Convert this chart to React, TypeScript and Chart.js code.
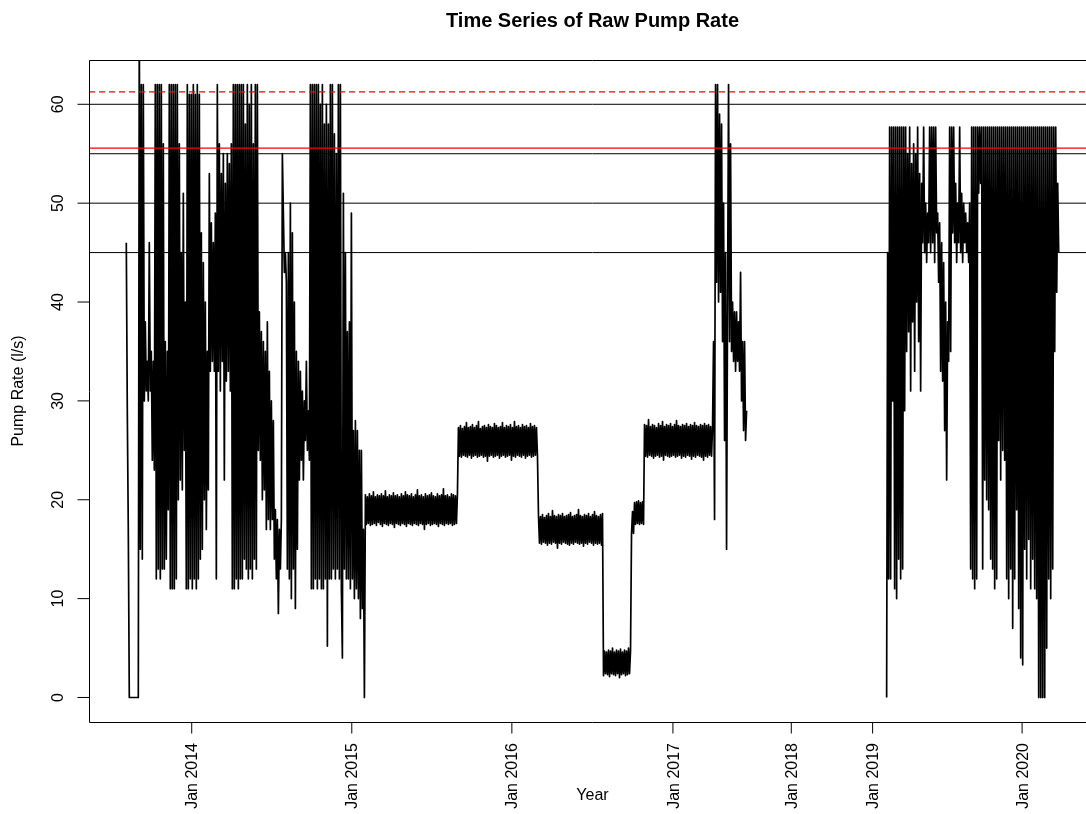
import React, { useEffect, useRef } from "react";
import { Chart, registerables } from "chart.js";

Chart.register(...registerables);

// ---- Data: observation index on x, pump rate (l/s) on y ----
// first observation index of each recorded period (the record has a gap in 2017-2019)
const periodStart = [0, 760];

// mid 2013 - Jan 2015: highly variable operation
const rate2013_2014 = [
  46, 29, 17, 0, 0, 0, 0, 0, 0, 0,
  0, 0, 0, 70, 15, 62, 14, 62, 30, 38,
  31, 34, 30, 46, 31, 35, 24, 34, 23, 62,
  12, 62, 13, 62, 12, 62, 13, 56, 13, 36,
  14, 35, 19, 62, 11, 62, 11, 62, 11, 62,
  12, 62, 20, 56, 22, 45, 21, 51, 25, 40,
  11, 62, 11, 61, 12, 61, 11, 62, 12, 61,
  11, 62, 12, 61, 14, 47, 15, 44, 20, 40,
  17, 35, 21, 53, 33, 48, 34, 46, 33, 49,
  12, 62, 33, 56, 31, 53, 34, 55, 22, 52,
  32, 55, 33, 54, 31, 56, 11, 62, 11, 62,
  12, 62, 11, 62, 12, 62, 12, 62, 14, 58,
  13, 62, 12, 60, 13, 62, 12, 56, 14, 62,
  13, 62, 25, 39, 24, 37, 20, 36, 21, 35,
  17, 38, 18, 33, 17, 30, 18, 28, 14, 19,
  12, 18, 8.5, 17, 13, 18, 55, 49, 43, 45,
  42, 13, 45, 12, 50, 10, 47, 13, 40, 9,
  35, 15, 34, 22, 33, 24, 31, 22, 30, 26,
  34, 25, 29, 24, 62, 11, 62, 11, 62, 12,
  62, 11, 62, 12, 60, 11, 62, 11, 58, 12,
  60, 5.2, 58, 12, 62, 12, 62, 13, 57, 12,
  55, 13, 62, 12, 62, 11, 4, 51, 13, 45,
  12, 37, 12, 38, 11, 49, 12, 27, 10, 28,
  11, 27, 10, 25, 8, 25, 9, 17, 0,
];

// 2015: steady band
const rate2015 = [
  20.5, 17.5, 20.3, 17.6, 20.6, 17.4, 20.4, 17.5, 20.8, 17.6,
  20.3, 17.4, 20.5, 17.7, 20.4, 17.5, 20.6, 17.3, 20.4, 17.6,
  20.9, 17.5, 20.3, 17.4, 20.5, 17.6, 20.4, 17.5, 20.7, 17.2,
  20.4, 17.6, 20.5, 17.5, 20.3, 17.4, 20.6, 17.6, 20.4, 17.5,
  20.8, 17.3, 20.5, 17.6, 20.4, 17.5, 20.6, 17.4, 20.3, 17.6,
  20.5, 17.5, 21.0, 17.4, 20.4, 17.6, 20.5, 17.5, 20.3, 17.0,
  20.6, 17.5, 20.4, 17.6, 20.5, 17.4, 20.7, 17.5, 20.4, 17.6,
  20.3, 17.5, 20.6, 17.3, 20.4, 17.6, 20.5, 17.5, 21.1, 17.4,
  20.4, 17.6, 20.5, 17.5, 20.3, 17.6, 20.6, 17.4, 20.5, 17.5,
  20.4, 17.6, 20.6,
];

// late 2015 - early 2016 band
const rate2015_2016 = [
  27.3, 24.4, 27.5, 24.3, 27.2, 24.5, 27.4, 24.4, 27.8, 24.3,
  27.3, 24.5, 27.4, 24.2, 27.6, 24.4, 27.3, 24.5, 27.5, 24.3,
  27.9, 24.4, 27.2, 24.5, 27.4, 24.3, 27.5, 24.4, 27.3, 23.9,
  27.6, 24.4, 27.4, 24.5, 27.3, 24.3, 27.7, 24.4, 27.5, 24.5,
  27.3, 24.2, 27.4, 24.4, 27.8, 24.5, 27.3, 24.3, 27.5, 24.4,
  27.4, 24.5, 27.6, 24.0, 27.3, 24.4, 27.9, 24.3, 27.4, 24.5,
  27.5, 24.4, 27.3, 24.3, 27.6, 24.5, 27.4, 24.2, 27.5, 24.4,
  27.3, 24.5, 27.7, 24.3, 27.4, 24.4, 27.5, 24.5, 27.3, 24.4,
];

// 2016 bands
const rate2016a = [
  18.4, 15.6, 18.3, 15.5, 18.5, 15.7, 18.2, 15.6, 18.4, 15.4,
  18.6, 15.6, 18.3, 15.5, 18.9, 15.7, 18.4, 15.6, 18.3, 15.1,
  18.5, 15.6, 18.4, 15.5, 18.6, 15.7, 18.3, 15.6, 18.4, 15.5,
  18.5, 15.4, 18.7, 15.6, 18.3, 15.5, 18.4, 15.7, 18.5, 15.6,
  19.0, 15.5, 18.4, 15.6, 18.3, 15.3, 18.5, 15.6, 18.4, 15.5,
  18.6, 15.7, 18.3, 15.6, 18.5, 15.4, 18.8, 15.6, 18.4, 15.5,
  18.3, 15.6, 18.5, 15.4, 18.6,
];
const rate2016b = [
  2.2, 4.7, 2.4, 4.6, 2.3, 4.8, 2.1, 4.7, 2.4, 5.0,
  2.3, 4.6, 2.2, 4.8, 2.4, 4.7, 2.0, 4.9, 2.3, 4.6,
  2.4, 4.8, 2.2, 4.7, 2.3, 5.0, 2.4, 4.7,
];
const rate2016c = [16.5, 18.8, 16.6, 19.7, 17.5, 19.8, 17.6, 19.9, 17.5, 19.7, 17.6, 19.8, 17.5];

// late 2016 - 2017 band
const rate2016_2017 = [
  27.6, 24.4, 27.5, 24.3, 28.1, 24.5, 27.4, 24.4, 27.6, 24.2,
  27.5, 24.4, 27.3, 24.5, 27.7, 24.3, 27.5, 24.4, 27.9, 24.0,
  27.4, 24.5, 27.6, 24.4, 27.5, 24.3, 27.7, 24.4, 27.4, 24.5,
  27.6, 24.3, 28.0, 24.4, 27.5, 24.5, 27.4, 24.2, 27.6, 24.4,
  27.5, 24.3, 27.7, 24.5, 27.4, 24.4, 27.6, 24.1, 27.5, 24.4,
  27.8, 24.3, 27.5, 24.5, 27.4, 24.4, 27.6, 24.3, 27.5, 24.0,
  27.7, 24.4, 27.5, 24.3, 27.6, 24.5, 27.4, 24.4, 27.5,
];

// spring 2017
const rate2017 = [
  36, 18, 62, 42, 62, 40, 59, 41, 58, 36,
  50, 26, 45, 15, 40, 62, 36, 56, 35, 40,
  34, 39, 33, 39, 34, 38, 33, 43, 30, 36,
  27, 36, 26, 29,
];

// 2019 - 2020
const rate2019_2020 = [
  0, 45, 12, 57.7, 12, 57.7, 30, 57.7, 11, 57.7,
  10, 57.7, 14, 57.7, 12, 57.7, 13, 57.7, 29, 57.7,
  35, 55, 37, 57.7, 31, 54, 38, 56, 33, 55,
  40, 57.7, 36, 53, 31, 52, 46, 57.7, 45, 50,
  44, 49, 46, 57.7, 45, 57.7, 46, 57.7, 44, 57.7,
  47, 49, 42, 48, 33, 46, 32, 44, 27, 40,
  22, 38, 34, 57.7, 35, 57.7, 47, 57.7, 46, 52,
  44, 50, 46, 57.7, 45, 51, 44, 50, 46, 49,
  45, 48, 44, 50, 13, 57.7, 12, 57.7, 11, 57.7,
  12, 57.7, 51, 57.7, 52, 57.7, 13, 57.7, 22, 57.7,
  20, 57.7, 19, 57.7, 14, 57.7, 13, 57.7, 11, 57.7,
  12, 57.7, 26, 57.7, 22, 57.7, 25, 57.7, 24, 57.7,
  12, 57.7, 10, 57.7, 13, 57.7, 7, 57.7, 12, 57.7,
  19, 57.7, 9, 57.7, 4, 57.7, 3.3, 57.7, 15, 57.7,
  12, 57.7, 16, 57.7, 11, 57.7, 14, 57.7, 11, 57.7,
  10, 57.7, 0, 57.7, 0, 57.7, 0, 57.7, 0, 57.7,
  5, 57.7, 12, 57.7, 10, 57.7, 13, 57.7, 35, 57.7,
  41, 52, 45,
];

// axis ticks (x positions are observation indices of each January)
const xTickIndex = [65.4, 225.4, 385.4, 546.4, 664.7, 746.0, 895.4];
const xTickLabels = ["Jan 2014", "Jan 2015", "Jan 2016", "Jan 2017", "Jan 2018", "Jan 2019", "Jan 2020"];
const yTicks = [0, 10, 20, 30, 40, 50, 60];
const yLimits = [0, 62];

// reference lines
const blackLimits = [45, 50, 55, 60];
const redLimit = 55.56;
const redDashedLimit = 61.25;

const FONT = '"Liberation Sans", Arial, Helvetica, sans-serif';

function buildSeries() {
  const first = [
    ...rate2013_2014,
    ...rate2015,
    ...rate2015_2016,
    ...rate2016a,
    ...rate2016b,
    ...rate2016c,
    ...rate2016_2017,
    ...rate2017,
  ];
  const pts: { x: number; y: number | null }[] = [];
  first.forEach((v, i) => pts.push({ x: periodStart[0] + i, y: v }));
  pts.push({ x: periodStart[0] + first.length, y: null });
  rate2019_2020.forEach((v, i) => pts.push({ x: periodStart[1] + i, y: v }));
  return pts;
}

const rAxesPlugin = {
  id: "rAxes",
  afterDraw(chart: any) {
    const { ctx, chartArea: ca, scales } = chart;
    const xs = scales.x;
    const ys = scales.y;
    ctx.save();
    ctx.strokeStyle = "#000";
    ctx.fillStyle = "#000";
    ctx.lineWidth = 1;
    // plot box
    ctx.beginPath();
    ctx.moveTo(ca.right, ca.top + 0.5);
    ctx.lineTo(ca.left + 0.5, ca.top + 0.5);
    ctx.lineTo(ca.left + 0.5, ca.bottom + 0.5);
    ctx.lineTo(ca.right, ca.bottom + 0.5);
    ctx.stroke();

    const tick = 11.5;
    ctx.font = `16px ${FONT}`;
    // y ticks
    yTicks.forEach((v) => {
      const py = ys.getPixelForValue(v);
      ctx.beginPath();
      ctx.moveTo(ca.left - tick, py);
      ctx.lineTo(ca.left, py);
      ctx.stroke();
      ctx.save();
      ctx.translate(ca.left - 25.7, py);
      ctx.rotate(-Math.PI / 2);
      ctx.textAlign = "center";
      ctx.textBaseline = "alphabetic";
      ctx.fillText(String(v), 0, 0);
      ctx.restore();
    });
    // x ticks
    xTickIndex.forEach((t, i) => {
      const px = xs.getPixelForValue(t);
      ctx.beginPath();
      ctx.moveTo(px, ca.bottom);
      ctx.lineTo(px, ca.bottom + tick);
      ctx.stroke();
      ctx.save();
      ctx.translate(px + 5.6, ca.bottom + 21);
      ctx.rotate(-Math.PI / 2);
      ctx.textAlign = "right";
      ctx.textBaseline = "alphabetic";
      ctx.fillText(xTickLabels[i], 0, 0);
      ctx.restore();
    });
    // axis titles
    const cx = (ca.left + ca.right) / 2;
    ctx.textAlign = "center";
    ctx.textBaseline = "alphabetic";
    ctx.fillText("Year", cx, ca.bottom + 78);
    ctx.save();
    ctx.translate(23.3, (ca.top + ca.bottom) / 2);
    ctx.rotate(-Math.PI / 2);
    ctx.fillText("Pump Rate (l/s)", 0, 0);
    ctx.restore();
    // main title
    ctx.font = `bold 20px ${FONT}`;
    ctx.fillText("Time Series of Raw Pump Rate", cx, ca.top - 33.3);
    ctx.restore();
  },
};

export default function App() {
  const ref = useRef<HTMLCanvasElement | null>(null);

  useEffect(() => {
    document.body.style.margin = "0";
    document.body.style.overflow = "hidden";
    document.documentElement.style.overflow = "hidden";
    if (!ref.current) return;

    const series = buildSeries();
    const valid = series.filter((p) => p.y !== null).map((p) => p.x);
    const dataMin = Math.min(...valid);
    const dataMax = Math.max(...valid);
    const xMin = dataMin - 0.04 * (dataMax - dataMin);
    const xMax = dataMax + 0.04 * (dataMax - dataMin);
    const yMin = yLimits[0] - 0.04 * (yLimits[1] - yLimits[0]);
    const yMax = yLimits[1] + 0.04 * (yLimits[1] - yLimits[0]);

    const hLine = (v: number) => [
      { x: xMin, y: v },
      { x: xMax, y: v },
    ];

    const datasets: any[] = [
      {
        label: "Pump rate",
        data: series,
        borderColor: "#000",
        borderWidth: 1.7,
        borderJoinStyle: "round",
        pointRadius: 0,
        tension: 0,
        spanGaps: false,
        order: 10,
      },
      ...blackLimits.map((v) => ({
        label: `limit ${v}`,
        data: hLine(v),
        borderColor: "#000",
        borderWidth: 1,
        pointRadius: 0,
        order: 2,
      })),
      {
        label: "red limit",
        data: hLine(redLimit),
        borderColor: "#ff0000",
        borderWidth: 1.2,
        pointRadius: 0,
        order: 1,
      },
      {
        label: "red dashed limit",
        data: hLine(redDashedLimit),
        borderColor: "#ff0000",
        borderWidth: 1.2,
        borderDash: [6, 4],
        pointRadius: 0,
        order: 1,
      },
    ];

    const chart = new Chart(ref.current, {
      type: "line",
      data: { datasets },
      options: {
        responsive: false,
        animation: false,
        devicePixelRatio: 1,
        events: [],
        layout: { padding: { left: 89, top: 60, right: 0, bottom: 92 } },
        plugins: {
          legend: { display: false },
          tooltip: { enabled: false },
          title: { display: false },
        },
        scales: {
          x: { type: "linear", display: false, min: xMin, max: xMax },
          y: { type: "linear", display: false, min: yMin, max: yMax },
        },
      },
      plugins: [rAxesPlugin],
    } as any);

    return () => chart.destroy();
  }, []);

  return (
    <div style={{ width: 1086, height: 814, overflow: "hidden", background: "#fff" }}>
      <canvas ref={ref} width={1096} height={814} style={{ display: "block" }} />
    </div>
  );
}
